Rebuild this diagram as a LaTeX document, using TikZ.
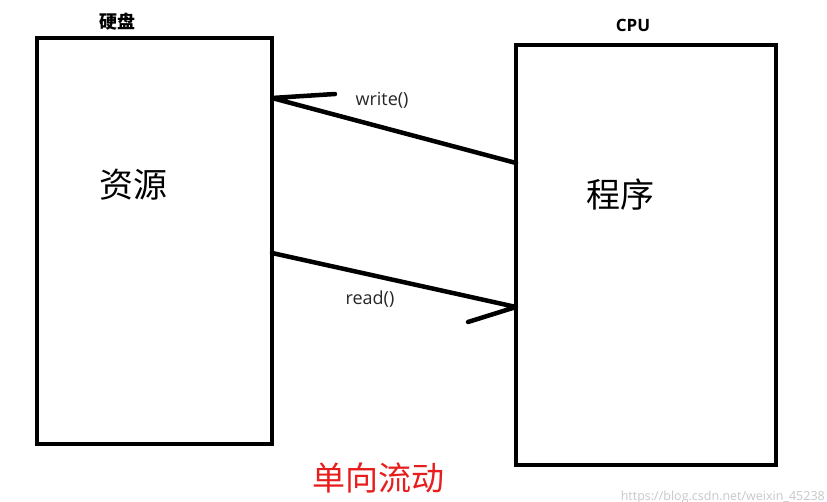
\documentclass[tikz,border=0pt]{standalone}
\usepackage{fontspec}
\setmainfont{Noto Sans CJK SC}
\newfontfamily\latinf{Open Sans}
\begin{document}
\begin{tikzpicture}[x=1pt,y=-1pt,
  conn/.style={line width=4.5pt,line cap=round,line join=round},
  lbl/.style={font=\latinf\fontsize{18}{20}\selectfont,text=black!85},
  big/.style={font=\fontsize{34}{38}\selectfont},
  title/.style={font=\bfseries\fontsize{18}{20}\selectfont}]
\useasboundingbox (0,0) rectangle (827,502);
\node[draw=black,line width=4.5pt,minimum width=235pt,minimum height=406pt,inner sep=0pt] (L) at (154.5,241) {};
\node[draw=black,line width=4.5pt,minimum width=260pt,minimum height=420pt,inner sep=0pt] (R) at (646,255) {};
\node[title] (t1) at (117,22) {硬盘};
\node[font=\latinf\bfseries\fontsize{17}{19}\selectfont] (t2) at (633,25) {CPU};
\node[big] (res) at (133,185) {资源};
\node[big] (prog) at (620,195) {程序};
\coordinate (ws) at (516,163);
\coordinate (we) at (272,98);
\coordinate (wb) at (335,94);
\coordinate (rs) at (272,253);
\coordinate (re) at (516,307);
\coordinate (rb) at (468,322);
\draw[conn] (ws) -- (we) -- (wb);
\draw[conn] (rs) -- (re) -- (rb);
\node[lbl] (wl) at (382,100) {write()};
\node[lbl] (rl) at (370,299) {read()};
\node[font=\fontsize{33}{36}\selectfont,text={rgb,255:red,232;green,30;blue,30}] (flow) at (378,478) {单向流动};
\node[anchor=east,font=\latinf\fontsize{12.5}{15}\selectfont,text=black!22,inner sep=0pt] (wm) at (825,497) {https://blog.csdn.net/weixin\_45238};
\end{tikzpicture}
\end{document}
